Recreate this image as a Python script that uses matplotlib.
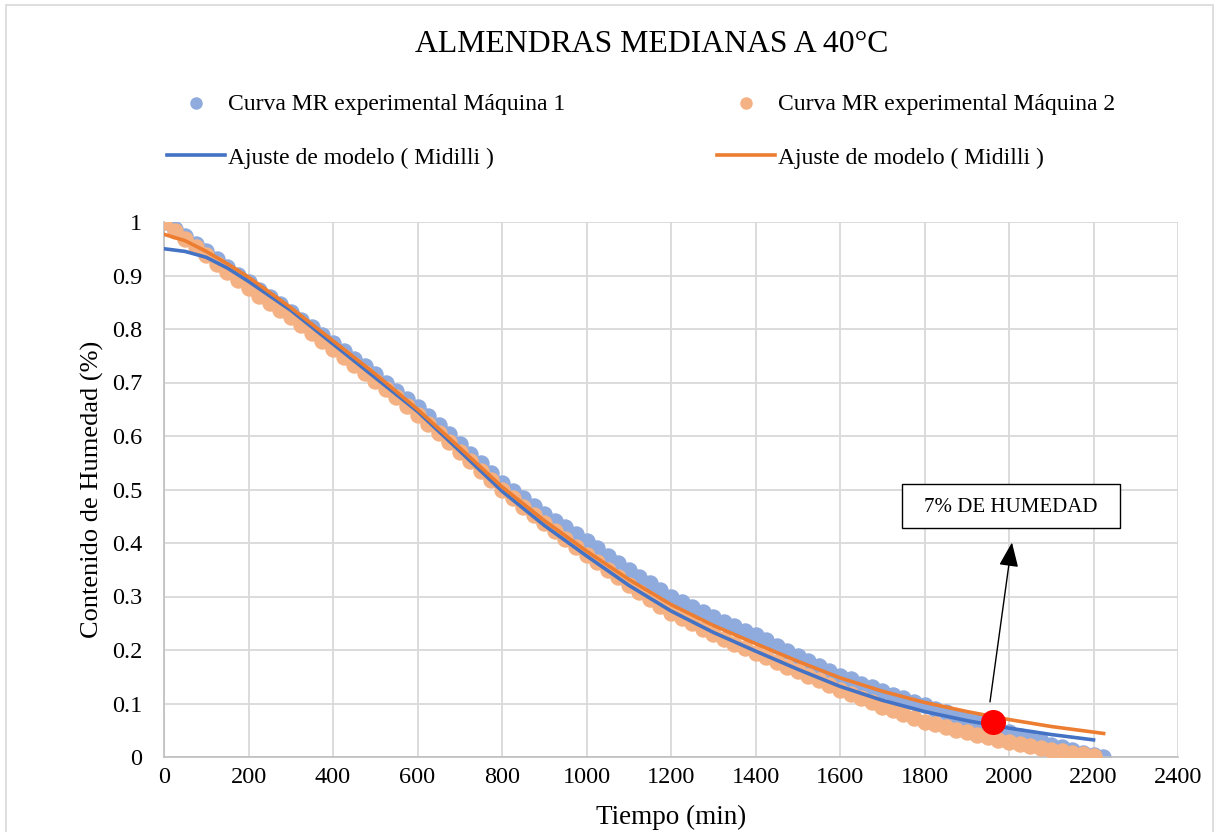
import matplotlib
matplotlib.use('Agg')
from matplotlib import pyplot as plt
from matplotlib.patches import Rectangle

plt.rcParams['font.family'] = ['Liberation Serif', 'DejaVu Serif']

# experimental MR curves (read every 25 min)
tiempo_m1 = list(range(0, 2201, 25)) + [2222]
mr_m1 = [1.000, 0.986, 0.973, 0.959, 0.945, 0.930, 0.916, 0.901, 0.887,
         0.873, 0.860, 0.846, 0.832, 0.817, 0.803, 0.788, 0.773, 0.759,
         0.744, 0.730, 0.715, 0.700, 0.685, 0.670, 0.655, 0.638, 0.620,
         0.603, 0.585, 0.567, 0.549, 0.531, 0.513, 0.498, 0.484, 0.469,
         0.455, 0.442, 0.429, 0.416, 0.403, 0.390, 0.376, 0.363, 0.350,
         0.337, 0.325, 0.312, 0.300, 0.290, 0.281, 0.271, 0.262, 0.253,
         0.245, 0.236, 0.228, 0.218, 0.208, 0.198, 0.188, 0.179, 0.170,
         0.161, 0.152, 0.145, 0.137, 0.130, 0.123, 0.116, 0.110, 0.103,
         0.097, 0.090, 0.084, 0.077, 0.071, 0.065, 0.058, 0.052, 0.046,
         0.040, 0.034, 0.029, 0.023, 0.018, 0.013, 0.008, 0.004, 0.000]

tiempo_m2 = list(range(0, 2201, 25))
mr_m2 = [1.000, 0.984, 0.969, 0.953, 0.938, 0.922, 0.907, 0.891, 0.876,
         0.862, 0.849, 0.835, 0.822, 0.807, 0.793, 0.778, 0.763, 0.748,
         0.733, 0.718, 0.703, 0.688, 0.672, 0.656, 0.640, 0.623, 0.605,
         0.588, 0.570, 0.553, 0.535, 0.518, 0.500, 0.484, 0.468, 0.452,
         0.437, 0.422, 0.407, 0.392, 0.378, 0.364, 0.350, 0.336, 0.322,
         0.309, 0.296, 0.283, 0.270, 0.260, 0.250, 0.240, 0.230, 0.221,
         0.212, 0.204, 0.195, 0.186, 0.177, 0.169, 0.160, 0.151, 0.143,
         0.134, 0.126, 0.118, 0.110, 0.102, 0.094, 0.087, 0.080, 0.073,
         0.066, 0.061, 0.056, 0.051, 0.046, 0.041, 0.037, 0.032, 0.028,
         0.024, 0.021, 0.017, 0.014, 0.011, 0.008, 0.005, 0.002]

# Midilli fits
tiempo_fit1 = [0, 50, 100, 150, 200, 300, 400, 500, 600, 700, 800, 900, 1000,
               1100, 1200, 1300, 1400, 1500, 1600, 1700, 1800, 1900, 2000,
               2100, 2200]
mr_fit1 = [0.950, 0.945, 0.934, 0.914, 0.889, 0.835, 0.772, 0.709, 0.646,
           0.572, 0.497, 0.433, 0.376, 0.321, 0.273, 0.233, 0.198, 0.164,
           0.132, 0.106, 0.085, 0.068, 0.054, 0.042, 0.032]

tiempo_fit2 = [0, 50, 100, 150, 200, 300, 400, 500, 600, 700, 800, 900, 1000,
               1100, 1200, 1300, 1400, 1500, 1600, 1700, 1800, 1900, 2000,
               2100, 2224]
mr_fit2 = [0.977, 0.965, 0.945, 0.922, 0.897, 0.840, 0.778, 0.716, 0.650,
           0.578, 0.505, 0.442, 0.385, 0.332, 0.285, 0.246, 0.212, 0.179,
           0.148, 0.123, 0.102, 0.085, 0.070, 0.057, 0.044]

punto_7 = (1961, 0.066)

x_ticks = list(range(0, 2401, 200))
y_ticks = [0, 0.1, 0.2, 0.3, 0.4, 0.5, 0.6, 0.7, 0.8, 0.9, 1]

fig = plt.figure(figsize=(12.18, 8.32), dpi=100)
ax = fig.add_axes([164 / 1218, 1 - 757 / 832, 1014 / 1218, 535 / 832])

# chart area border
fig.patches.append(Rectangle((6 / 1218, -0.05), 1207 / 1218, 1.05 - 5 / 832,
                             transform=fig.transFigure, fill=False,
                             ec='#D9D9D9', lw=1.2))

s1 = ax.scatter(tiempo_m1, mr_m1, s=140, color='#8FAADC', lw=0, zorder=2)
s2 = ax.scatter(tiempo_m2, mr_m2, s=140, color='#F4B183', lw=0, zorder=3)
l1, = ax.plot(tiempo_fit1, mr_fit1, color='#4472C4', lw=2.6, zorder=4)
l2, = ax.plot(tiempo_fit2, mr_fit2, color='#ED7D31', lw=2.6, zorder=5)
ax.plot(punto_7[0], punto_7[1], 'o', color='#FF0000', ms=17, zorder=6)

ax.annotate('', xy=(2007, 0.401), xytext=(1955, 0.103),
            arrowprops=dict(arrowstyle='-|>,head_length=0.75,head_width=0.3',
                            color='black', lw=1, mutation_scale=20,
                            shrinkA=0, shrinkB=0), zorder=7)
ax.add_patch(Rectangle((1746, 0.428), 517, 0.083, fc='white', ec='black',
                       lw=1, zorder=7))
ax.text(2004.5, 0.467, '7% DE HUMEDAD', ha='center', va='center',
        fontsize=15, zorder=8)

ax.set_xlim(0, 2400)
ax.set_ylim(0, 1)
ax.set_xticks(x_ticks)
ax.set_yticks(y_ticks)
ax.set_yticklabels(['{:g}'.format(v) for v in y_ticks])
ax.tick_params(length=0, labelsize=17.5)
ax.tick_params(axis='y', pad=15.5)
ax.tick_params(axis='x', pad=7)
ax.grid(True, color='#D9D9D9', lw=1.3)
ax.set_axisbelow(True)
for side in ['top', 'right']:
    ax.spines[side].set_visible(False)
for side in ['left', 'bottom']:
    ax.spines[side].set_color('#BFBFBF')
    ax.spines[side].set_linewidth(1.2)

ax.set_xlabel('Tiempo (min)', fontsize=19.5, labelpad=12)
ax.set_ylabel('Contenido de Humedad (%)', fontsize=19, labelpad=6)

fig.text(652 / 1218, 1 - 45 / 832, 'ALMENDRAS MEDIANAS A 40°C',
         ha='center', va='center', fontsize=22.9)

ax.legend([s1, l1, s2, l2],
          ['Curva MR experimental Máquina 1', 'Ajuste de modelo ( Midilli )',
           'Curva MR experimental Máquina 2', 'Ajuste de modelo ( Midilli )'],
          ncol=2, loc='upper left', bbox_to_anchor=(167 / 1218, 1 - 93 / 832),
          bbox_transform=fig.transFigure, frameon=False, fontsize=17,
          borderpad=0, borderaxespad=0, handlelength=2.45, handletextpad=0.15,
          columnspacing=6.4, labelspacing=1.38, markerscale=0.76)

plt.savefig('out.png', dpi=100)
